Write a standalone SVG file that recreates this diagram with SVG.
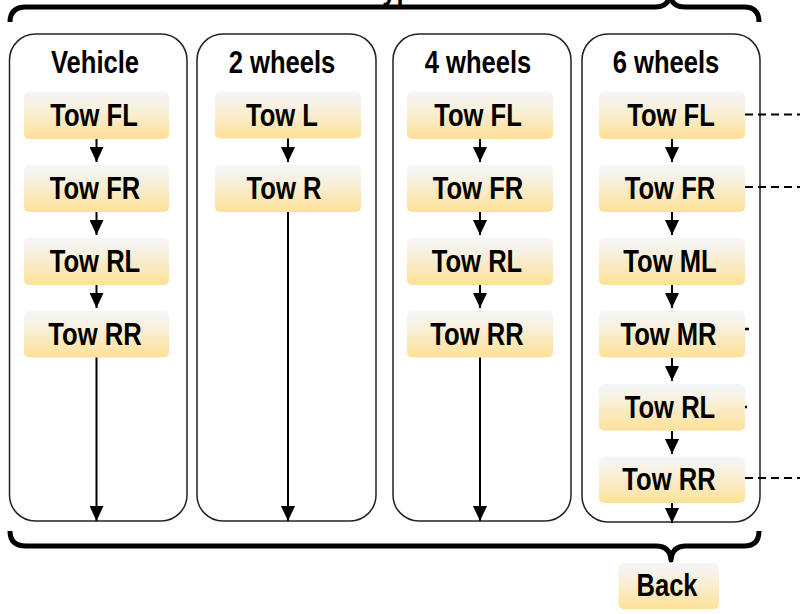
<svg xmlns="http://www.w3.org/2000/svg" width="800" height="614" viewBox="0 0 800 614">
<defs>
<linearGradient id="ng" x1="0" y1="0" x2="0" y2="1">
<stop offset="0" stop-color="#f4f6f9"/>
<stop offset="0.35" stop-color="#f8f0dc"/>
<stop offset="1" stop-color="#fee197"/>
</linearGradient>
<marker id="ah" markerWidth="15" markerHeight="14" refX="15" refY="7" orient="auto" markerUnits="userSpaceOnUse" viewBox="0 0 15 14">
<path d="M0,0 L15,7 L0,14 z" fill="#000"/>
</marker>
</defs>
<style>
.col{fill:#fff;stroke:#222;stroke-width:1.5}
.nd{fill:url(#ng)}
.t{font-family:"Liberation Sans",Arial,sans-serif;font-weight:bold;font-size:32px;fill:#000;text-anchor:middle}
.brace{fill:none;stroke:#000;stroke-width:5;stroke-linejoin:round}
.ar{stroke:#000;stroke-width:2;fill:none;marker-end:url(#ah)}
.dash{stroke:#000;stroke-width:2;stroke-dasharray:8 5;fill:none}
.mk{stroke:#000;stroke-width:2.5}
</style>
<rect width="800" height="614" fill="#fff"/>
<g id="top-brace">
<path class="brace" d="M10,22 Q10,7 26,7 L655,7 Q669,7 670,-6 Q671,7 685,7 L744,7 Q759,7 759,22"/>
<text class="t" style="text-anchor:start" transform="translate(368.5,-1.5) scale(0.8,1)">Type</text>
</g>
<g id="bottom-brace">
<path class="brace" d="M10,531 Q10,546 26,546 L656,546 Q670,546 671,560 Q672,546 686,546 L744,546 Q759,546 759,531"/>
</g>
<g id="col-vehicle">
<rect class="col" x="9.5" y="34" width="177.5" height="487" rx="26"/>
<text class="t" transform="translate(95,73) scale(0.8,1)">Vehicle</text>
</g>
<g id="col-2wheels">
<rect class="col" x="197" y="34" width="179" height="487" rx="26"/>
<text class="t" transform="translate(282,73) scale(0.8,1)">2 wheels</text>
</g>
<g id="col-4wheels">
<rect class="col" x="393" y="34" width="178" height="487" rx="26"/>
<text class="t" transform="translate(478,73) scale(0.8,1)">4 wheels</text>
</g>
<g id="col-6wheels">
<rect class="col" x="582" y="34" width="178" height="488" rx="26"/>
<text class="t" transform="translate(666,73) scale(0.8,1)">6 wheels</text>
</g>
<g id="connectors">
<line class="ar" x1="96.5" y1="139" x2="96.5" y2="162"/>
<line class="ar" x1="96.5" y1="212" x2="96.5" y2="235"/>
<line class="ar" x1="96.5" y1="285" x2="96.5" y2="308"/>
<line class="ar" x1="96.5" y1="357" x2="96.5" y2="521"/>
<line class="ar" x1="288" y1="138" x2="288" y2="162"/>
<line class="ar" x1="288" y1="212" x2="288" y2="521"/>
<line class="ar" x1="480" y1="139" x2="480" y2="162"/>
<line class="ar" x1="480" y1="212" x2="480" y2="235"/>
<line class="ar" x1="480" y1="285" x2="480" y2="308"/>
<line class="ar" x1="480" y1="357" x2="480" y2="521"/>
<line class="ar" x1="672" y1="139" x2="672" y2="162"/>
<line class="ar" x1="672" y1="212" x2="672" y2="235"/>
<line class="ar" x1="672" y1="285" x2="672" y2="308"/>
<line class="ar" x1="672" y1="358" x2="672" y2="381"/>
<line class="ar" x1="672" y1="431" x2="672" y2="454"/>
<line class="ar" x1="672" y1="503" x2="672" y2="523"/>
<line class="dash" x1="745" y1="114.5" x2="800" y2="114.5"/>
<line class="dash" x1="745" y1="187" x2="800" y2="187"/>
<line class="dash" x1="745" y1="478" x2="800" y2="478"/>
<line class="mk" x1="741" y1="329" x2="749" y2="329"/>
<line class="mk" x1="739" y1="407" x2="747" y2="407"/>
</g>
<g id="v-fl"><rect class="nd" x="24" y="92" width="145" height="47" rx="5"/><text class="t" transform="translate(94,125.5) scale(0.8,1)">Tow FL</text></g>
<g id="v-fr"><rect class="nd" x="24" y="165" width="145" height="47" rx="5"/><text class="t" transform="translate(95,198.5) scale(0.8,1)">Tow FR</text></g>
<g id="v-rl"><rect class="nd" x="24" y="238" width="145" height="47" rx="5"/><text class="t" transform="translate(95,271.5) scale(0.8,1)">Tow RL</text></g>
<g id="v-rr"><rect class="nd" x="24" y="311" width="145" height="46.5" rx="5"/><text class="t" transform="translate(95,344.5) scale(0.8,1)">Tow RR</text></g>
<g id="w2-l"><rect class="nd" x="215" y="92" width="146" height="46.5" rx="5"/><text class="t" transform="translate(282,125.5) scale(0.8,1)">Tow L</text></g>
<g id="w2-r"><rect class="nd" x="215" y="165" width="146" height="47" rx="5"/><text class="t" transform="translate(284,198.5) scale(0.8,1)">Tow R</text></g>
<g id="w4-fl"><rect class="nd" x="407" y="92" width="146" height="47" rx="5"/><text class="t" transform="translate(478,125.5) scale(0.8,1)">Tow FL</text></g>
<g id="w4-fr"><rect class="nd" x="407" y="165" width="146" height="47" rx="5"/><text class="t" transform="translate(478,198.5) scale(0.8,1)">Tow FR</text></g>
<g id="w4-rl"><rect class="nd" x="407" y="238" width="146" height="47" rx="5"/><text class="t" transform="translate(477,271.5) scale(0.8,1)">Tow RL</text></g>
<g id="w4-rr"><rect class="nd" x="407" y="311" width="146" height="46.5" rx="5"/><text class="t" transform="translate(477,344.5) scale(0.8,1)">Tow RR</text></g>
<g id="w6-fl"><rect class="nd" x="599" y="92" width="146" height="47" rx="5"/><text class="t" transform="translate(671,125.5) scale(0.8,1)">Tow FL</text></g>
<g id="w6-fr"><rect class="nd" x="599" y="165" width="146" height="47" rx="5"/><text class="t" transform="translate(670,198.5) scale(0.8,1)">Tow FR</text></g>
<g id="w6-ml"><rect class="nd" x="599" y="238" width="146" height="47" rx="5"/><text class="t" transform="translate(670,271.5) scale(0.8,1)">Tow ML</text></g>
<g id="w6-mr"><rect class="nd" x="599" y="311" width="146" height="46.5" rx="5"/><text class="t" transform="translate(668.5,344.5) scale(0.8,1)">Tow MR</text></g>
<g id="w6-rl"><rect class="nd" x="599" y="384" width="146" height="46.5" rx="5"/><text class="t" transform="translate(670,417.5) scale(0.8,1)">Tow RL</text></g>
<g id="w6-rr"><rect class="nd" x="599" y="456.5" width="146" height="46.5" rx="5"/><text class="t" transform="translate(669,490) scale(0.8,1)">Tow RR</text></g>
<g id="back"><rect class="nd" x="618.5" y="563" width="100.5" height="46" rx="5"/><text class="t" transform="translate(667,596) scale(0.8,1)">Back</text></g>
</svg>
